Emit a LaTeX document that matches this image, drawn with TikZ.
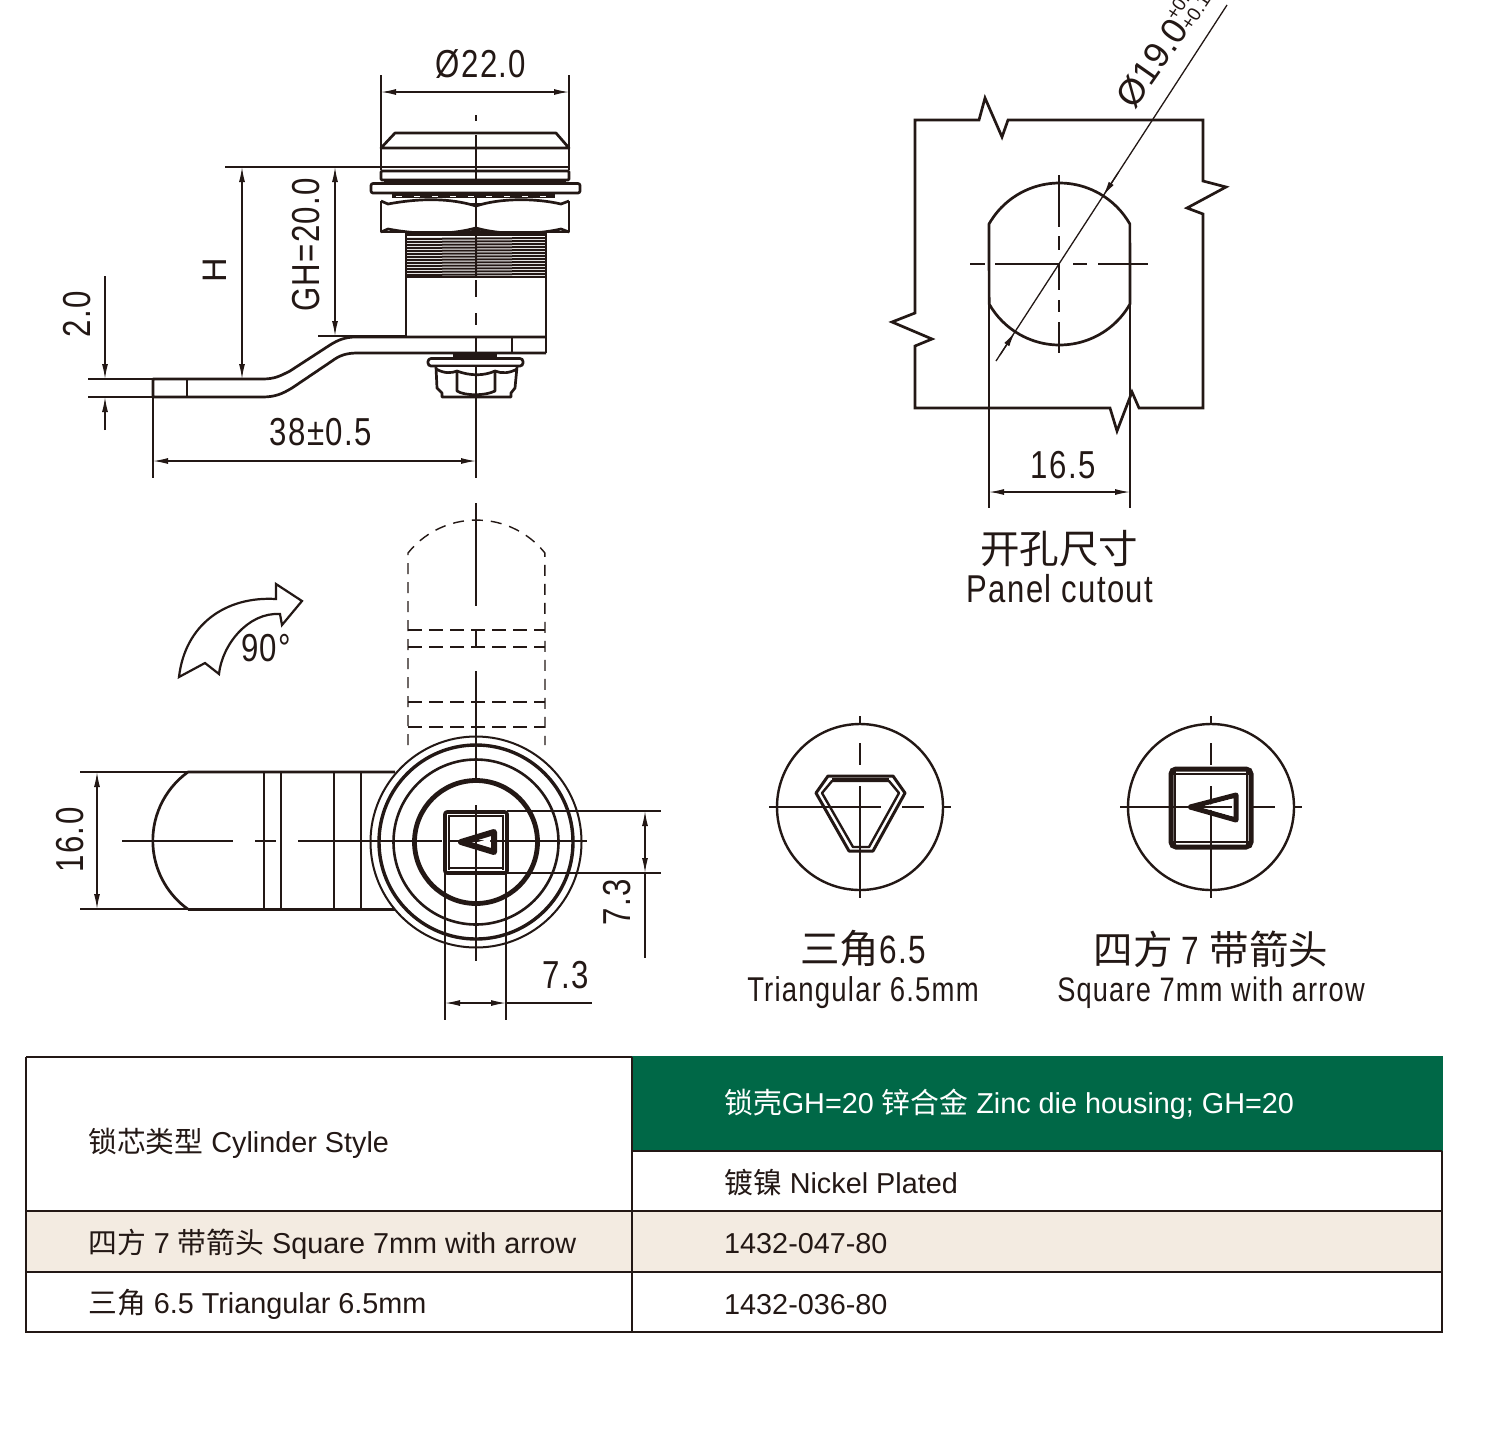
\documentclass[tikz,border=0pt]{standalone}
\usepackage{fontspec}
\usetikzlibrary{arrows.meta}
\setmainfont{Liberation Sans}
\newfontfamily\dimf[FakeStretch=0.8,LetterSpace=3.5]{Liberation Sans}
\newfontfamily\cjk{Noto Sans CJK SC}
\definecolor{ink}{HTML}{231815}
\definecolor{grn}{HTML}{006847}
\definecolor{beige}{HTML}{F3EBE1}
\tikzset{
  thinl/.style={draw=ink,line width=1.3pt},
  body/.style={draw=ink,line width=2.7pt,line join=round},
  heavy/.style={draw=ink,line width=3.6pt,line join=round},
  dash2/.style={draw=ink,line width=1.4pt,dash pattern=on 15pt off 7pt},
  dimarr/.style={draw=ink,line width=1.3pt,{Latex[length=15pt,width=6pt]}-{Latex[length=15pt,width=6pt]}},
  endarr/.style={draw=ink,line width=1.3pt,-{Latex[length=15pt,width=6pt]}},
  dimt/.style={inner sep=0pt,text=ink,font=\dimf\fontsize{39}{39}\selectfont},
  cjkt/.style={inner sep=0pt,text=ink,font=\cjk\fontsize{39.5}{39.5}\selectfont},
  tabt/.style={inner sep=0pt,text=ink,anchor=west,font=\fontsize{28.8}{29}\selectfont},
}
\begin{document}
\begin{tikzpicture}[x=1pt,y=-1pt]
\useasboundingbox (0,0) rectangle (1507,1452);
\fill[white] (0,0) rectangle (1507,1452);

% ---------- side view ----------
\draw[thinl] (476,115)--(476,121) (476,135)--(476,278) (476,280)--(476,297) (476,313)--(476,325) (476,338)--(476,478);
% head
\draw[body] (381,148)--(395,133)--(556,133)--(569,148)--cycle;
\draw[body] (381,148)--(381,167)--(569,167)--(569,148);
\draw[body,rounded corners=1pt] (381,171)--(569,171)--(569,180)--(381,180)--cycle;
\fill[ink] (384,179) rectangle (566,183);
\draw[body,fill=white,rounded corners=2pt] (371,183.5) rectangle (580,193);
\fill[ink] (392,193) rectangle (555,198);
\draw[white,line width=1pt,dash pattern=on 6pt off 12pt] (396,196)--(552,196);
% nut
\draw[body] (381,201)--(381,232)--(569,232)--(569,201);
\draw[body] (381,201)--(388,204) .. controls (420,198) and (450,198) .. (476,206) .. controls (500,198) and (535,198) .. (561,204)--(569,201);
\draw[body] (381,232)--(388,229) .. controls (420,235) and (450,235) .. (476,228) .. controls (500,235) and (535,235) .. (561,229)--(569,232);
\draw[thinl] (476,206)--(476,228);
\fill[ink] (468,203)--(484,203)--(476,207)--cycle;
\fill[ink] (468,232)--(484,232)--(476,228)--cycle;
% thread
\fill[ink] (405,233) rectangle (547,236);
\foreach \yy in {238,241,...,274}{\draw[ink,line width=2pt] (406,\yy+1)--(546,\yy);}
\draw[body] (406,233)--(406,336) (546,233)--(546,353);
\draw[body] (406,277)--(546,277);
% cam
\draw[body] (546,337)--(356,337) .. controls (345,337) and (338,340) .. (330,345)--(290,371) .. controls (280,376) and (275,379) .. (262,379)--(153,379)--(153,397)--(262,397) .. controls (275,397) and (282,394) .. (292,388)--(332,361) .. controls (340,355) and (347,353) .. (358,353)--(546,353);
\draw[body] (187,379)--(187,397);
\draw[body] (512,337)--(512,353);
% bottom nut
\fill[ink] (453,353) rectangle (497,359);
\draw[body,fill=white,rounded corners=3pt] (428,358.5) rectangle (523,366);
\draw[body,fill=white] (436,367)--(437,388)--(442,393)--(442,397)--(511,397)--(511,393)--(515,388)--(517,367);
\draw[body] (436,369) .. controls (445,374) and (452,373) .. (457,371) .. controls (470,376) and (484,376) .. (495,371) .. controls (502,374) and (510,373) .. (517,369);
\draw[body] (457,371)--(457,391) .. controls (465,396) and (485,396) .. (495,391)--(495,371);
\draw[thinl] (476,366)--(476,400);
% dims
\draw[thinl] (381,75)--(381,170) (569,75)--(569,170);
\draw[dimarr] (381,92)--(569,92);
\node[dimt] (t22) at (481,64) {Ø22.0};
\draw[thinl] (225,167)--(381,167) (318,336)--(406,336);
\draw[dimarr] (242,167)--(242,379);
\node[inner sep=0pt,text=ink,rotate=90,font=\fontsize{34}{34}\selectfont] (tH) at (215,270) {H};
\draw[dimarr] (335,167)--(335,336);
\node[dimt,rotate=90] (tGH) at (306,245) {GH=20.0};
\draw[thinl] (88,379)--(153,379) (88,397)--(153,397);
\draw[endarr] (105,276)--(105,379);
\draw[endarr] (105,430)--(105,397);
\node[dimt,rotate=90] (t2) at (77,314) {2.0};
\draw[thinl] (153,397)--(153,478);
\draw[dimarr] (153,461)--(476,461);
\node[dimt] (t38) at (321,432) {38±0.5};

% ---------- panel cutout ----------
\draw[body,line join=miter] (915,120)--(979,120)--(985,98)--(1002,137)--(1008,120)--(1203,120)--(1203,181)--(1226,187)--(1187,208)--(1203,214)--(1203,408)--(1139,408)--(1132,392)--(1117,431)--(1110,408)--(915,408)--(915,346)--(932,339)--(892,322)--(915,313)--cycle;
\draw[body] (989,224) arc[start angle=-150.4,end angle=-29.6,radius=81]--(1130,304) arc[start angle=29.6,end angle=150.4,radius=81]--cycle;
\draw[thinl] (970,264)--(985,264) (995,264)--(1060,264) (1073,264)--(1087,264) (1098,264)--(1148,264);
\draw[thinl] (1059,175)--(1059,227) (1059,236)--(1059,250) (1059,263)--(1059,290) (1059,300)--(1059,312) (1059,322)--(1059,353);
\draw[thinl] (996,361)--(1227,5);
\draw[endarr] (1118,173)--(1103,196);
\draw[endarr] (1000,355)--(1015,332);
\draw[thinl] (989,304)--(989,508) (1130,304)--(1130,508);
\draw[dimarr] (989,492)--(1130,492);
\node[dimt] (t165) at (1063,465) {16.5};
\node[inner sep=0pt,text=ink,rotate=55,font=\fontsize{36}{36}\selectfont] (t19) at (1152,63) {Ø19.0};
\node[inner sep=0pt,text=ink,rotate=56.5,anchor=west,font=\fontsize{19}{19}\selectfont] (tolup) at (1170,18) {+0.3};
\node[inner sep=0pt,text=ink,rotate=56.5,anchor=west,font=\fontsize{19}{19}\selectfont] (tollo) at (1185,28) {+0.1};
\node[cjkt] (tkk) at (1059,549) {开孔尺寸};
\node[dimt,font=\dimf\fontsize{38.8}{38.8}\selectfont] (tpc) at (1060,589) {Panel cutout};

% ---------- front view ----------
\draw[dash2,dash pattern=on 11pt off 8pt] (408,745)--(408,553) arc[start angle=-141.4,end angle=-38.6,radius=87.6]--(545,745);
\draw[dash2,dash pattern=on 14pt off 7pt] (408,630)--(545,630) (408,647)--(545,647) (408,702)--(545,702) (408,727)--(545,727);
\draw[thinl] (476,503)--(476,606) (476,630)--(476,647) (476,671)--(476,783) (476,805)--(476,961);
% cam
\draw[body] (395,772)--(188,772) arc[start angle=-125.7,end angle=-234.3,radius=84.5] coordinate (camend);
\draw[body] (188,909.2)--(395,909.2);
\draw[body,line width=2.2pt] (264,772)--(264,909) (281,772)--(281,909) (334,772)--(334,909) (361,772)--(361,909);
\draw[thinl] (122,841)--(233,841) (255,841)--(276,841) (298,841)--(442,841) (450,841)--(587,841);
% rings
\draw[draw=ink,line width=2pt] (476,842) circle[radius=105.5];
\draw[draw=ink,line width=3.4pt] (476,842) circle[radius=97];
\draw[draw=ink,line width=2.6pt] (476,842) circle[radius=82.5];
\draw[draw=ink,line width=4.8pt] (476,842) circle[radius=61.5];
% socket
\draw[heavy,rounded corners=2pt] (445,812) rectangle (507,873);
\draw[thinl] (448,816)--(504,816) (448,868)--(504,868) (449,815)--(449,870) (503,815)--(503,870);
\draw[draw=ink,line width=6pt,line join=round] (461,842)--(494,832)--(494,852)--cycle;
\fill[white] (478,842)--(490,838.5)--(490,845.5)--cycle;
% dims
\draw[thinl] (80,772)--(188,772) (80,909)--(188,909);
\draw[dimarr] (97,772)--(97,909);
\node[dimt,rotate=90] (t16) at (70,840) {16.0};
\draw[thinl] (507,811)--(661,811) (507,873)--(661,873);
\draw[dimarr] (645,811)--(645,873);
\draw[thinl] (645,873)--(645,958);
\node[dimt,rotate=90] (t73a) at (617,902) {7.3};
\draw[thinl] (445,873)--(445,1020) (506,873)--(506,1020);
\draw[dimarr] (445,1003)--(506,1003);
\draw[thinl] (506,1003)--(592,1003);
\node[dimt] (t73b) at (566,975) {7.3};
% rotation arrow
\draw[draw=ink,line width=2.2pt,line join=miter,fill=white] (179,677)--(205,663)--(219,674) .. controls (222,645) and (248,612) .. (280,614)--(282,625)--(302,601)--(276,584)--(276,599) .. controls (225,596) and (185,625) .. (179,677)--cycle;
\node[dimt] (t90) at (266,648) {90°};

% ---------- key types ----------
\draw[draw=ink,line width=2.4pt] (860,807) circle[radius=83];
\draw[thinl] (769,807)--(881,807) (902,807)--(924,807) (944,807)--(951,807);
\draw[thinl] (860,716)--(860,725) (860,743)--(860,765) (860,786)--(860,898);
\draw[draw=ink,line width=3pt,line join=round] (828,776)--(893,776)--(905,793)--(873,851)--(849,851)--(816,793)--cycle;
\draw[draw=ink,line width=2.4pt,line join=round] (832,781)--(889,781)--(899,793)--(869,847)--(853,847)--(822,793)--cycle;
\draw[ink,line width=2pt] (832,779)--(889,779);
\draw[draw=ink,line width=2.4pt] (1211,807) circle[radius=83];
\draw[thinl] (1120,807)--(1232,807) (1253,807)--(1275,807) (1295,807)--(1302,807);
\draw[thinl] (1211,716)--(1211,725) (1211,743)--(1211,765) (1211,786)--(1211,898);
\draw[draw=ink,line width=5pt,rounded corners=5pt] (1171,769) rectangle (1251,847);
\draw[thinl] (1175,772)--(1175,845) (1247,772)--(1247,845) (1172,774)--(1250,774) (1172,842)--(1250,842);
\draw[draw=ink,line width=5pt,line join=round] (1190,807)--(1236,795)--(1236,820)--cycle;
\fill[white] (1201,807)--(1232,799)--(1232,816)--cycle;
\draw[thinl] (1201,807)--(1232,807);
\node[inner sep=0pt,text=ink,font=\fontsize{39.5}{39.5}\selectfont] (tri1) at (863,949) {{\cjk 三角}{\dimf 6.5}};
\node[dimt,font=\dimf\fontsize{34.4}{34.4}\selectfont] (tri2) at (863,993) {Triangular 6.5mm};
\node[inner sep=0pt,text=ink,font=\fontsize{39.5}{39.5}\selectfont] (squ1) at (1211,949) {{\cjk 四方 }{\dimf 7 }{\cjk 带箭头}};
\node[dimt,font=\dimf\fontsize{34}{34}\selectfont] (squ2) at (1211,993) {Square 7mm with arrow};

% ---------- table ----------
\fill[grn] (632,1056) rectangle (1443,1151);
\fill[beige] (26,1211) rectangle (1442,1272);
\draw[draw=ink,line width=2.2pt] (26,1057)--(632,1057) (632,1151)--(1442,1151) (26,1211)--(1442,1211) (26,1272)--(1442,1272);
\draw[draw=ink,line width=2.2pt] (26,1057)--(26,1332)--(1442,1332)--(1442,1151) (632,1057)--(632,1332);
\node[tabt] (c1) at (88,1143) {{\cjk 锁芯类型} Cylinder Style};
\node[tabt,text=white] (c2) at (724,1104) {{\cjk 锁壳}GH=20 {\cjk 锌合金} Zinc die housing; GH=20};
\node[tabt] (c3) at (724,1183) {{\cjk 镀镍} Nickel Plated};
\node[tabt] (c4) at (88,1244) {{\cjk 四方} 7 {\cjk 带箭头} Square 7mm with arrow};
\node[tabt] (c5) at (724,1244) {1432-047-80};
\node[tabt] (c6) at (88,1304) {{\cjk 三角} 6.5 Triangular 6.5mm};
\node[tabt] (c7) at (724,1305) {1432-036-80};
\end{tikzpicture}
\end{document}
